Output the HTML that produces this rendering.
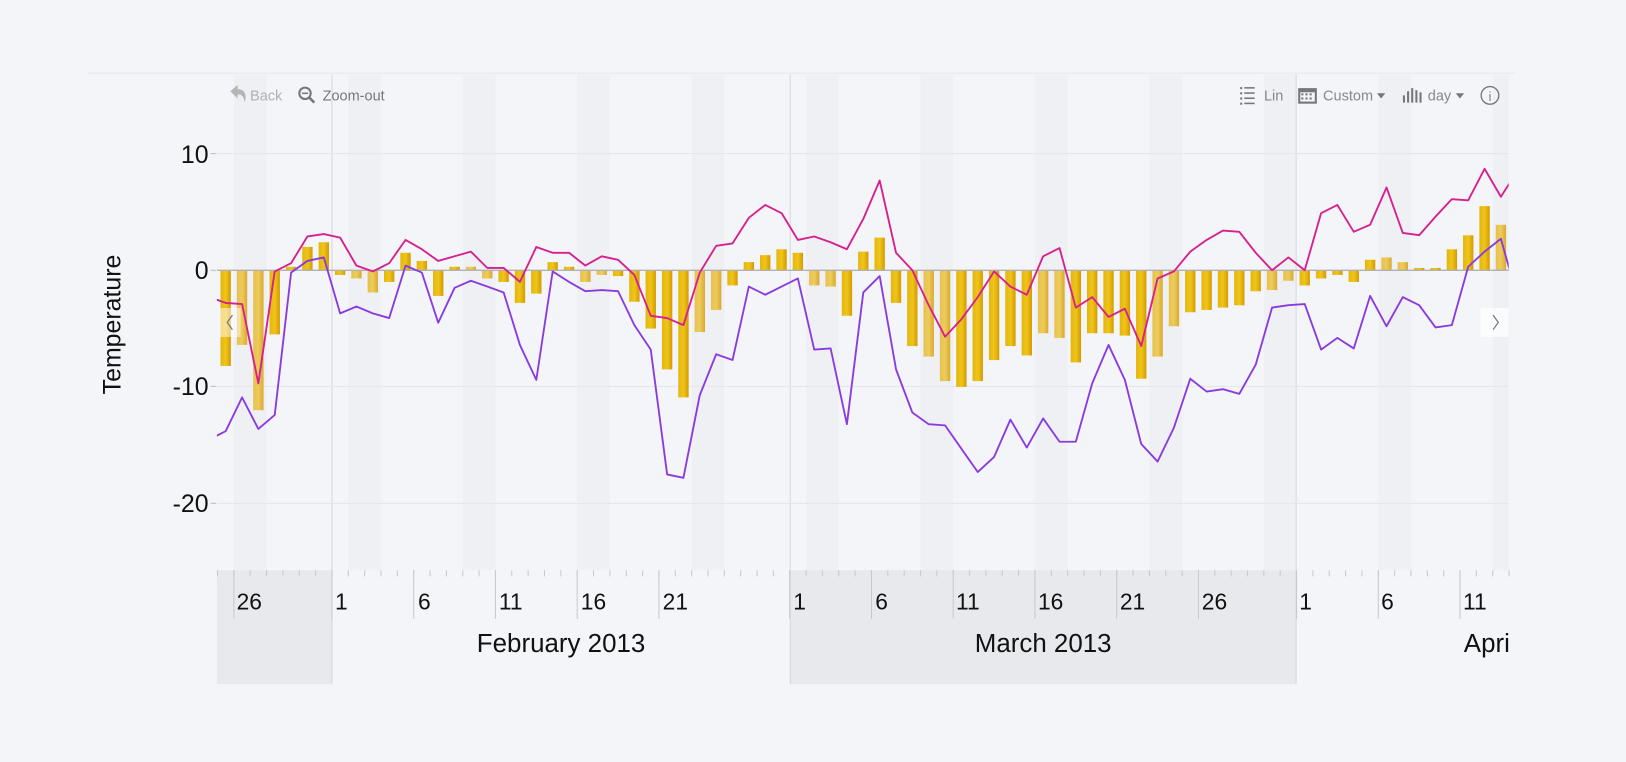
<!DOCTYPE html>
<html><head><meta charset="utf-8"><style>
html,body{margin:0;padding:0;background:#f4f5f9;}
svg{display:block;font-family:"Liberation Sans",sans-serif;}
</style></head><body>
<svg id="s" width="1626" height="762" viewBox="0 0 1568 735" xmlns="http://www.w3.org/2000/svg">
<defs>
<linearGradient id="g1" x1="0" x2="1" y1="0" y2="0"><stop offset="0" stop-color="#e2b60e"/><stop offset="0.5" stop-color="#f0c51a"/><stop offset="1" stop-color="#d49a00"/></linearGradient>
<linearGradient id="g2" x1="0" x2="1" y1="0" y2="0"><stop offset="0" stop-color="#e6c050"/><stop offset="0.5" stop-color="#edcc5a"/><stop offset="1" stop-color="#d9a930"/></linearGradient>
<clipPath id="cp"><rect x="209" y="70" width="1246" height="480"/></clipPath>
<clipPath id="cx"><rect x="209" y="550" width="1246" height="120"/></clipPath>
</defs>
<rect width="1568" height="735" fill="#f4f5f9"/>
<line x1="85" y1="70.5" x2="1461" y2="70.5" stroke="#e6e7eb"/>
<g id="weekends" clip-path="url(#cp)"></g>
<rect x="209" y="550" width="111" height="110" fill="#e8e9ed"/>
<rect x="762" y="550" width="488" height="110" fill="#e8e9ed"/>
<g stroke="#d6d7dc" stroke-width="1">
<line x1="320" y1="72" x2="320" y2="660"/>
<line x1="762" y1="72" x2="762" y2="660"/>
<line x1="1250" y1="72" x2="1250" y2="660"/>
</g>
<g stroke="#e4e5ea" stroke-width="1">
<line x1="209" y1="148.2" x2="1455" y2="148.2"/>
<line x1="209" y1="372.7" x2="1455" y2="372.7"/>
<line x1="209" y1="485.5" x2="1455" y2="485.5"/>
</g>
<g stroke="#bbb"><line x1="203" y1="148.2" x2="208" y2="148.2"/><line x1="203" y1="260.7" x2="208" y2="260.7"/><line x1="203" y1="372.7" x2="208" y2="372.7"/><line x1="203" y1="485.5" x2="208" y2="485.5"/></g>
<g font-size="24" fill="#111" text-anchor="end">
<text x="201" y="157">10</text>
<text x="201" y="269">0</text>
<text x="201" y="381">-10</text>
<text x="201" y="494">-20</text>
</g>
<text transform="translate(116,313) rotate(-90)" font-size="24" fill="#111" text-anchor="middle">Temperature</text>
<g id="bars" clip-path="url(#cp)"></g>
<line x1="209" y1="260.7" x2="1455" y2="260.7" stroke="#b0b0b5" stroke-width="1.3"/>
<g clip-path="url(#cp)">
<polyline id="pink" fill="none" stroke="#d6208e" stroke-width="1.8" stroke-linejoin="round"/>
<polyline id="purp" fill="none" stroke="#8a3be0" stroke-width="1.8" stroke-linejoin="round"/>
</g>
<g id="ticks" stroke="#c8c9ce"></g>
<g font-size="22" fill="#111">
<text x="228" y="588">26</text>
<text x="323" y="588">1</text>
<text x="403" y="588">6</text>
<text x="481" y="588">11</text>
<text x="560" y="588">16</text>
<text x="639" y="588">21</text>
<text x="765" y="588">1</text>
<text x="844" y="588">6</text>
<text x="922" y="588">11</text>
<text x="1001" y="588">16</text>
<text x="1080" y="588">21</text>
<text x="1159" y="588">26</text>
<text x="1253" y="588">1</text>
<text x="1332" y="588">6</text>
<text x="1411" y="588">11</text>
</g>
<g font-size="25" fill="#111" text-anchor="middle" clip-path="url(#cx)">
<text x="541" y="629">February 2013</text>
<text x="1006" y="629">March 2013</text>
<text x="1468" y="629">April 2013</text>
</g>
<rect x="212" y="297" width="20" height="28" fill="#fff" opacity="0.5"/>
<path d="M224 304 L219 311 L224 318" fill="none" stroke="#777" stroke-width="1.2"/>
<rect x="1428" y="297" width="27" height="28" fill="#fff" opacity="0.7"/>
<path d="M1440 304 L1445 311 L1440 318" fill="none" stroke="#777" stroke-width="1.2"/>
<path d="M222 88 L229 82 L229 86 C236 86 238 91 236 99 C235 93 233 91 229 91 L229 95 Z" fill="#b5b5b5"/>
<text x="241" y="97" font-size="14" fill="#b0b0b0">Back</text>
<circle cx="294" cy="90" r="5.5" fill="none" stroke="#777" stroke-width="2"/>
<line x1="298" y1="94" x2="303" y2="99" stroke="#777" stroke-width="2.5"/>
<line x1="291" y1="90" x2="297" y2="90" stroke="#777" stroke-width="1.5"/>
<text x="311" y="97" font-size="14" fill="#777">Zoom-out</text>
<g fill="#777">
<rect x="1196" y="84" width="2" height="2"/><rect x="1200" y="84" width="10" height="1.5"/>
<rect x="1196" y="89" width="2" height="2"/><rect x="1200" y="89" width="10" height="1.5"/>
<rect x="1196" y="94" width="2" height="2"/><rect x="1200" y="94" width="10" height="1.5"/>
<rect x="1196" y="99" width="2" height="2"/><rect x="1200" y="99" width="10" height="1.5"/>
<rect x="1252" y="85" width="18" height="15"/>
<rect x="1353" y="92" width="2" height="7"/><rect x="1357" y="88" width="2" height="11"/><rect x="1361" y="85" width="2" height="14"/><rect x="1365" y="87" width="2" height="12"/><rect x="1369" y="89" width="2" height="10"/>
<path d="M1328 90 L1336 90 L1332 95 Z"/>
<path d="M1404 90 L1412 90 L1408 95 Z"/>
</g>
<g fill="#f4f5f9"><rect x="1254" y="89" width="14" height="9"/></g>
<g fill="#777"><rect x="1255" y="90" width="2" height="2"/><rect x="1259" y="90" width="2" height="2"/><rect x="1263" y="90" width="2" height="2"/><rect x="1255" y="94" width="2" height="2"/><rect x="1259" y="94" width="2" height="2"/><rect x="1263" y="94" width="2" height="2"/></g>
<text x="1219" y="97" font-size="14" fill="#888">Lin</text>
<text x="1276" y="97" font-size="14" fill="#888">Custom</text>
<text x="1377" y="97" font-size="14" fill="#888">day</text>
<circle cx="1437" cy="92" r="8.5" fill="none" stroke="#777" stroke-width="1.3"/>
<text x="1437" y="97.5" font-size="12" fill="#777" text-anchor="middle">i</text>
</svg>
<script>
var NS="http://www.w3.org/2000/svg",W=15.77,X0=209.6,Z=260.7,U=11.25;
function cx(i){return X0+W*(i+0.5);}
function vy(v){return Z-v*U;}
function el(t,a,p){var e=document.createElementNS(NS,t);for(var k in a)e.setAttribute(k,a[k]);p.appendChild(e);return e;}
var wk=document.getElementById('weekends');
for(var i=1;i<79;i+=7){el('rect',{x:X0+W*i,y:72,width:W*2,height:478,fill:'#eff0f3'},wk);}
var bars=[-8.2,-6.4,-12,-5.5,0.3,2,2.4,-0.4,-0.7,-1.9,-1,1.5,0.8,-2.2,0.3,0.3,-0.7,-1,-2.8,-2,0.7,0.3,-1,-0.4,-0.5,-2.7,-5,-8.5,-10.9,-5.3,-3.4,-1.3,0.7,1.3,1.8,1.5,-1.3,-1.4,-3.9,1.6,2.8,-2.8,-6.5,-7.4,-9.5,-10,-9.5,-7.7,-6.5,-7.3,-5.4,-5.8,-7.9,-5.4,-5.4,-5.6,-9.3,-7.4,-4.8,-3.6,-3.4,-3.2,-3,-1.8,-1.7,-0.9,-1.3,-0.7,-0.4,-1,0.9,1.1,0.7,0.2,0.2,1.8,3,5.5,3.9];
var bg=document.getElementById('bars');
bars.forEach(function(v,i){var y=vy(v),h=Math.abs(v*U);var wkd=(i%7==1||i%7==2);
el('rect',{x:cx(i)-5,y:v>=0?y:Z,width:10,height:Math.max(h,1),fill:wkd?'url(#g2)':'url(#g1)'},bg);});
var pink=[-2.8,-2.9,-9.7,-0.1,0.6,2.9,3.1,2.8,0.4,-0.1,0.6,2.6,1.8,0.8,1.2,1.6,0.2,0.2,-1,2,1.5,1.5,0.4,1.2,0.9,-0.4,-3.9,-4.1,-4.7,-0.2,2.1,2.3,4.5,5.6,4.9,2.6,2.9,2.4,1.8,4.4,7.7,1.5,0,-3,-5.7,-4.2,-2.3,-0.1,-1.4,-2.1,1.2,1.9,-3.2,-2.3,-4,-3.3,-6.5,-0.7,-0.1,1.6,2.6,3.4,3.3,1.5,0,1.1,0,4.9,5.6,3.3,3.9,7.1,3.2,3,4.6,6.1,6,8.7,6.3,8.5];
var purp=[-13.8,-10.9,-13.6,-12.4,-0.2,0.8,1.1,-3.7,-3.1,-3.7,-4.1,0.4,-0.2,-4.5,-1.5,-0.9,-1.4,-1.9,-6.4,-9.4,-0.1,-1,-1.8,-1.7,-1.8,-4.7,-6.8,-17.5,-17.8,-10.7,-7.2,-7.7,-1.4,-2.1,-1.4,-0.7,-6.8,-6.7,-13.2,-1.9,-0.5,-8.5,-12.2,-13.2,-13.3,-15.3,-17.3,-16,-12.8,-15.2,-12.7,-14.7,-14.7,-9.7,-6.4,-9.4,-14.9,-16.4,-13.5,-9.3,-10.4,-10.2,-10.6,-8.1,-3.2,-3,-2.9,-6.8,-5.8,-6.7,-2.2,-4.8,-2.3,-3,-4.9,-4.7,0.3,1.6,2.7,-2.3];
function pts(a,first){var s=[cx(-1)+' '+vy(first)];a.forEach(function(v,i){s.push(cx(i).toFixed(1)+','+vy(v).toFixed(1));});return s.join(' ');}
document.getElementById('pink').setAttribute('points',pts(pink,-2.3));
document.getElementById('purp').setAttribute('points',pts(purp,-14.5));
var tk=document.getElementById('ticks');
for(var i=0;i<=79;i++){el('line',{x1:X0+W*i,y1:550,x2:X0+W*i,y2:556},tk);}
[1,7,12,17,22,27,35,40,45,50,55,60,66,71,76].forEach(function(i){el('line',{x1:X0+W*i,y1:550,x2:X0+W*i,y2:597},tk);});
</script>
</body></html>
